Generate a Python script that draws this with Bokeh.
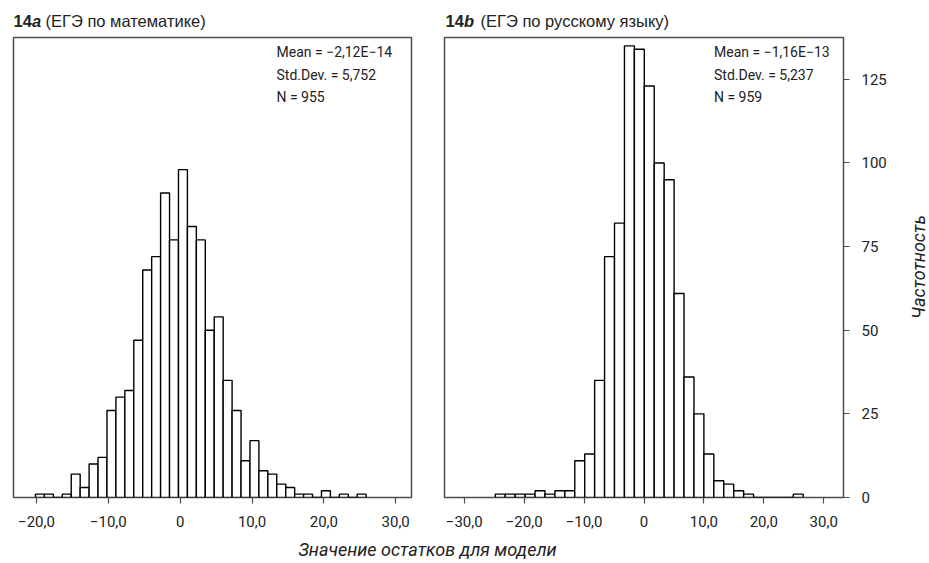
import math
from bokeh.plotting import figure
from bokeh.models import Range1d, FixedTicker, Label
from bokeh.layouts import row, column
from bokeh.embed import file_html
from bokeh.resources import INLINE
from bokeh.core.properties import value

# ---------------- data ----------------
math_counts = [1, 1, 0, 1, 7, 3, 10, 12, 26, 30, 32, 47, 68, 72, 91, 77, 98, 81, 77, 50,
               54, 35, 26, 11, 17, 8, 7, 4, 3, 1, 1, 0, 2, 0, 1, 0, 1]
math_bin_start = -20.14
math_bin_width = 1.244

rus_counts = [1, 1, 1, 1, 2, 1, 2, 2, 11, 13, 35, 72, 82, 135, 134, 123, 100, 95, 61, 36,
              25, 13, 5, 4, 2, 1, 0, 0, 0, 0, 1]
rus_bin_start = -24.82
rus_bin_width = 1.658

math_ticks = [-20, -10, 0, 10, 20, 30]
math_tick_labels = ["−20,0", "−10,0", "0", "10,0", "20,0", "30,0"]
rus_ticks = [-30, -20, -10, 0, 10, 20, 30]
rus_tick_labels = ["−30,0", "−20,0", "−10,0", "0", "10,0", "20,0", "30,0"]
y_ticks = [0, 25, 50, 75, 100, 125]

math_stats = ["Mean = −2,12E−14", "Std.Dev. = 5,752", "N = 955"]
rus_stats = ["Mean = −1,16E−13", "Std.Dev. = 5,237", "N = 959"]

math_title = ("14", "a", "(ЕГЭ по математике)")
rus_title = ("14", "b", "(ЕГЭ по русскому языку)")
x_title = "Значение остатков для модели"
y_title = "Частотность"

# ---------------- style ----------------
NARROW = "Roboto"
SANS = "Liberation Sans"
FRAME = "#4d4d4d"
TXT = "#222222"
Y_MAX = 137.5
FRAME_H = 460


def strip(w, h):
    s = figure(width=w, height=h, x_range=Range1d(0, w), y_range=Range1d(0, h),
               min_border=0, output_backend="svg", toolbar_location=None,
               x_axis_location=None, y_axis_location=None)
    s.grid.visible = False
    s.outline_line_color = None
    s.background_fill_color = "white"
    s.border_fill_color = "white"
    return s


def panel(counts, start, width, xr, ticks, labels, stats, w, bl, br, yaxis):
    p = figure(width=w, height=FRAME_H + 1 + 38, x_range=Range1d(*xr),
               y_range=Range1d(0, Y_MAX),
               min_border_left=bl, min_border_right=br, min_border_top=1,
               min_border_bottom=38, output_backend="svg", toolbar_location=None,
               y_axis_location=("right" if yaxis else None))
    lefts = [start + i * width for i in range(len(counts))]
    rights = [l + width for l in lefts]
    p.quad(left=lefts, right=rights, bottom=0, top=counts,
           fill_color="white", line_color="black", line_width=1.4)
    p.grid.visible = False
    p.outline_line_color = FRAME
    p.outline_line_width = 1.5
    p.background_fill_color = "white"
    p.border_fill_color = "white"

    ax = p.xaxis[0]
    ax.ticker = FixedTicker(ticks=ticks)
    ax.major_label_overrides = {t: l for t, l in zip(ticks, labels)}
    ax.axis_line_color = None
    ax.major_tick_in = 0
    ax.major_tick_out = 6
    ax.major_tick_line_color = FRAME
    ax.major_tick_line_width = 1.2
    ax.minor_tick_line_color = None
    ax.major_label_standoff = 12
    ax.major_label_text_font = NARROW
    ax.major_label_text_font_size = "15px"
    ax.major_label_text_color = TXT

    if yaxis:
        ay = p.yaxis[0]
        ay.ticker = FixedTicker(ticks=y_ticks)
        ay.axis_line_color = None
        ay.major_tick_in = 0
        ay.major_tick_out = 6
        ay.major_tick_line_color = FRAME
        ay.major_tick_line_width = 1.2
        ay.minor_tick_line_color = None
        ay.major_label_standoff = 12
        ay.major_label_text_font = NARROW
        ay.major_label_text_font_size = "15px"
        ay.major_label_text_color = TXT

    px_per_unit = (w - bl - br) / (xr[1] - xr[0])
    px_per_count = FRAME_H / Y_MAX
    sx = 269.5 if yaxis else 263.0
    for i, s in enumerate(stats):
        ypix = 14.5 + i * 22.5
        p.add_layout(Label(x=xr[0] + sx / px_per_unit, y=Y_MAX - ypix / px_per_count,
                           text=s, text_font=NARROW, text_font_size="14px",
                           text_color=TXT, text_baseline="middle"))
    return p


p1 = panel(math_counts, math_bin_start, math_bin_width, (-23.2, 32.2),
           math_ticks, math_tick_labels, math_stats, 434, 13, 23, False)
p2 = panel(rus_counts, rus_bin_start, rus_bin_width, (-33.3, 33.3),
           rus_ticks, rus_tick_labels, rus_stats, 459, 10, 50, True)

# right strip with the vertical axis title
p4 = strip(36, FRAME_H + 1 + 38)
p4.text(x=[25], y=[250], text=[y_title], angle=math.pi / 2,
        text_font=value(NARROW), text_font_style="italic", text_font_size="18px",
        text_color=TXT, text_align="center", text_baseline="middle")

# top strip with the panel titles
top = strip(929, 36)
for x0, t, gap in ((13, math_title, 32), (445, rus_title, 35)):
    top.text(x=[x0], y=[16], text=[t[0]], text_font=value(SANS), text_font_style="bold",
             text_font_size="16.5px", text_color=TXT, text_baseline="middle")
    top.text(x=[x0 + 18.5], y=[16], text=[t[1]], text_font=value(SANS),
             text_font_style="bold italic", text_font_size="16.5px", text_color=TXT,
             text_baseline="middle")
    top.text(x=[x0 + gap], y=[16], text=[t[2]], text_font=value(SANS),
             text_font_size="16.5px", text_color=TXT, text_baseline="middle")

# bottom strip with the x-axis title
bottom = strip(929, 28)
bottom.text(x=[427], y=[14], text=[x_title], text_font=value(NARROW),
            text_font_style="italic", text_font_size="18px", text_color=TXT,
            text_align="center", text_baseline="middle")

layout = column(top, row(p1, p2, p4, spacing=0), bottom, spacing=0)
open("out.html", "w").write(file_html(layout, INLINE))
